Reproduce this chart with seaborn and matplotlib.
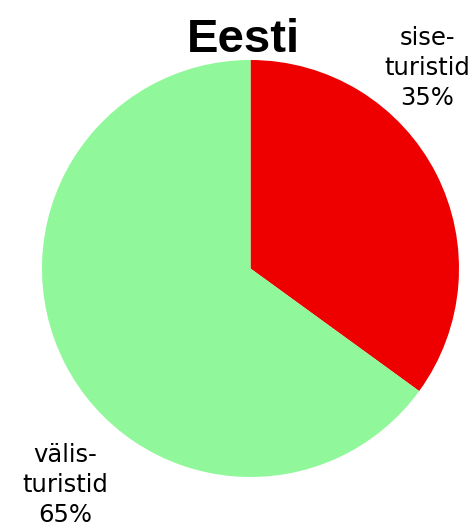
import seaborn as sns
import matplotlib.pyplot as plt

labels = ['sise-\nturistid', 'välis-\nturistid']
shares = [35, 65]
colors = ['#EE0000', '#90F89A']

sns.set_style('white')

W, H = 477, 529
fig = plt.figure(figsize=(W / 100, H / 100), dpi=100)
ax = fig.add_axes([42 / W, 52 / H, 417 / W, 417 / H])

wedges, _ = ax.pie(shares, colors=colors, startangle=90, counterclock=False,
                   wedgeprops={'linewidth': 0})
ax.set_xlim(-1, 1)
ax.set_ylim(-1, 1)
ax.axis('off')

# labels outside the pie
fig.text(427 / W, 1 - 68 / H, f'{labels[0]}\n{shares[0]}%', ha='center', va='center',
         fontsize=17.5, family='DejaVu Sans', linespacing=1.3, color='black')
fig.text(65 / W, 1 - 485 / H, f'{labels[1]}\n{shares[1]}%', ha='center', va='center',
         fontsize=17.5, family='DejaVu Sans', linespacing=1.3, color='black')

fig.text(243 / W, 1 - 52 / H, 'Eesti', ha='center', va='baseline', color='black',
         fontsize=34, fontweight='bold', family='Liberation Sans')

fig.savefig('out.png', dpi=100)
